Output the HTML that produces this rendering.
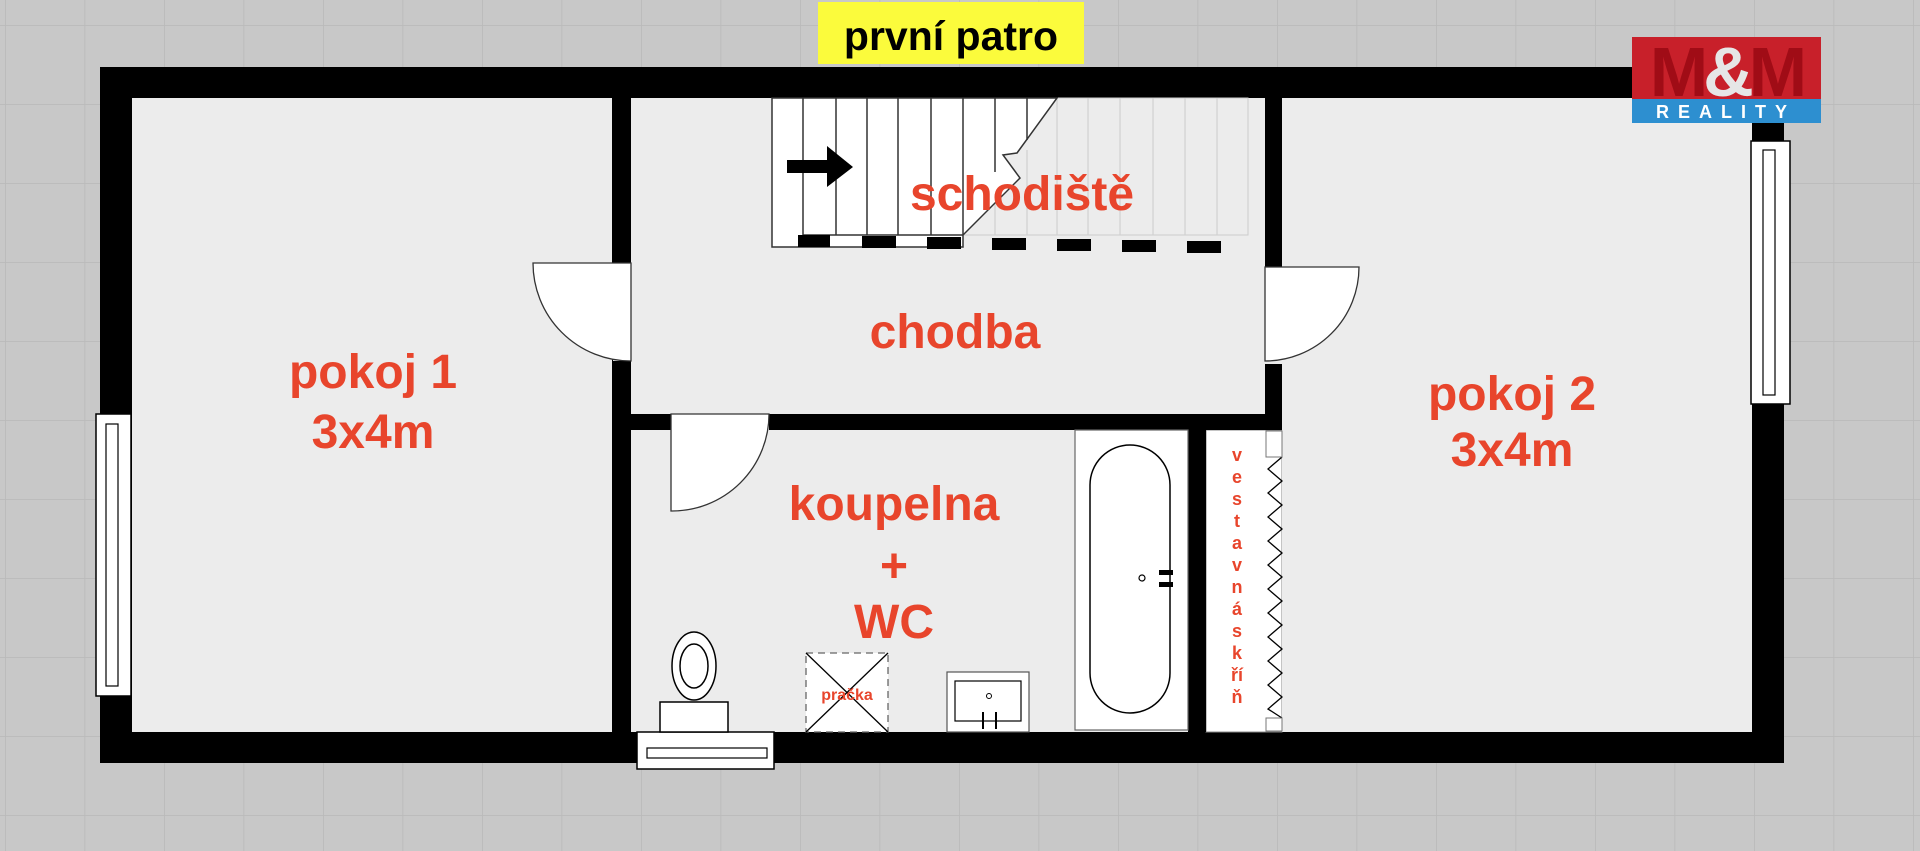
<!DOCTYPE html>
<html><head><meta charset="utf-8"><style>
html,body{margin:0;padding:0;width:1920px;height:851px;overflow:hidden;background:#c8c8c8}
svg{display:block}
text{font-family:"Liberation Sans",sans-serif;font-weight:bold}
</style></head><body>
<svg width="1920" height="851" viewBox="0 0 1920 851" xmlns="http://www.w3.org/2000/svg">
<defs>
<pattern id="g" width="79.5" height="79" patternUnits="userSpaceOnUse" x="5" y="25">
<rect width="79.5" height="79" fill="#c8c8c8"/>
<path d="M0 0H79.5M0 0V79" stroke="#b9b9b9" stroke-width="1.5" fill="none"/>
</pattern>
</defs>
<rect width="1920" height="851" fill="url(#g)"/>
<rect x="100" y="67" width="1684" height="696" fill="#000"/>
<rect x="132" y="98" width="480" height="634" fill="#ececec"/>
<rect x="631" y="98" width="634" height="317" fill="#ececec"/>
<rect x="631" y="430" width="557" height="302" fill="#ececec"/>
<rect x="1206" y="430" width="76" height="302" fill="#fff" stroke="#888" stroke-width="1"/>
<rect x="1282" y="98" width="470" height="634" fill="#ececec"/>
<rect x="772" y="98" width="476" height="137" fill="#ececec" stroke="#ccc" stroke-width="1"/>
<g stroke="#d0d0d0" stroke-width="1.2">
<line x1="1057" y1="98" x2="1057" y2="235"/><line x1="1088" y1="98" x2="1088" y2="235"/><line x1="1120" y1="98" x2="1120" y2="235"/><line x1="1153" y1="98" x2="1153" y2="235"/><line x1="1185" y1="98" x2="1185" y2="235"/><line x1="1217" y1="98" x2="1217" y2="235"/><line x1="1027" y1="150" x2="1027" y2="235"/><line x1="995" y1="190" x2="995" y2="235"/>
</g>
<polygon points="772,98 1057,98 1017,153 1003,155 1020,178 963,235 963,247 772,247" fill="#fff" stroke="#333" stroke-width="1.5"/>
<g stroke="#333" stroke-width="1.5">
<line x1="803" y1="98" x2="803" y2="235"/><line x1="836" y1="98" x2="836" y2="235"/><line x1="867" y1="98" x2="867" y2="235"/><line x1="898" y1="98" x2="898" y2="235"/><line x1="931" y1="98" x2="931" y2="235"/><line x1="963" y1="98" x2="963" y2="235"/><line x1="995" y1="98" x2="995" y2="172"/><line x1="1027" y1="98" x2="1027" y2="140"/>
<line x1="803" y1="235" x2="963" y2="235"/>
</g>
<polygon points="787,160 827,160 827,146 853,167 827,187 827,173 787,173" fill="#000"/>
<g fill="#000">
<rect x="798" y="235" width="32" height="12"/><rect x="862" y="236" width="34" height="12"/><rect x="927" y="237" width="34" height="12"/><rect x="992" y="238" width="34" height="12"/><rect x="1057" y="239" width="34" height="12"/><rect x="1122" y="240" width="34" height="12"/><rect x="1187" y="241" width="34" height="12"/>
</g>
<rect x="612" y="98" width="19" height="634" fill="#000"/>
<rect x="1265" y="98" width="17" height="332" fill="#000"/>
<rect x="612" y="414" width="670" height="16" fill="#000"/>
<rect x="1188" y="414" width="18" height="318" fill="#000"/>
<rect x="613" y="263" width="18" height="98" fill="#ececec"/>
<path d="M631 263 H533 A98 98 0 0 0 631 361 Z" fill="#fff" stroke="#333" stroke-width="1.3"/>
<rect x="1265" y="267" width="17" height="97" fill="#ececec"/>
<path d="M1265 267 H1359 A94 94 0 0 1 1265 361 Z" fill="#fff" stroke="#333" stroke-width="1.3"/>
<rect x="671" y="413" width="98" height="18" fill="#ececec"/>
<path d="M671 414 V511 A97 97 0 0 0 769 414 Z" fill="#fff" stroke="#333" stroke-width="1.3"/>
<rect x="96" y="414" width="35" height="282" fill="#fff" stroke="#000" stroke-width="1.5"/>
<rect x="106" y="424" width="12" height="262" fill="#fff" stroke="#000" stroke-width="1.2"/>
<rect x="1751" y="141" width="39" height="263" fill="#fff" stroke="#000" stroke-width="1.5"/>
<rect x="1763" y="150" width="12" height="245" fill="#fff" stroke="#000" stroke-width="1.2"/>
<rect x="637" y="732" width="137" height="37" fill="#fff" stroke="#000" stroke-width="1.5"/>
<rect x="647" y="748" width="120" height="10" fill="#fff" stroke="#000" stroke-width="1.2"/>
<rect x="1075" y="430" width="113" height="300" fill="#fff" stroke="#666" stroke-width="1.2"/>
<rect x="1090" y="445" width="80" height="268" rx="40" fill="#fff" stroke="#000" stroke-width="1.5"/>
<circle cx="1142" cy="578" r="3" fill="none" stroke="#000" stroke-width="1.2"/>
<rect x="1159" y="570" width="14" height="5" fill="#000"/><rect x="1159" y="582" width="14" height="5" fill="#000"/>
<rect x="947" y="672" width="82" height="60" fill="#fff" stroke="#555" stroke-width="1.2"/>
<rect x="955" y="681" width="66" height="40" fill="#fff" stroke="#000" stroke-width="1.2"/>
<circle cx="989" cy="696" r="2.5" fill="none" stroke="#000"/>
<line x1="983" y1="712" x2="983" y2="729" stroke="#000" stroke-width="2"/><line x1="996" y1="712" x2="996" y2="729" stroke="#000" stroke-width="2"/>
<rect x="806" y="653" width="82" height="79" fill="#fff" stroke="#666" stroke-width="1.3" stroke-dasharray="7,5"/>
<line x1="806" y1="653" x2="888" y2="732" stroke="#000" stroke-width="1.3"/><line x1="888" y1="653" x2="806" y2="732" stroke="#000" stroke-width="1.3"/>
<text x="847" y="700" font-size="16" fill="#e8452c" text-anchor="middle">pračka</text>
<ellipse cx="694" cy="666" rx="22" ry="34" fill="#fff" stroke="#000" stroke-width="1.5"/>
<ellipse cx="694" cy="666" rx="14" ry="22" fill="#fff" stroke="#000" stroke-width="1.5"/>
<rect x="660" y="702" width="68" height="30" fill="#fff" stroke="#000" stroke-width="1.5"/>
<polyline points="1282,457 1268,469 1282,481 1268,493 1282,505 1268,517 1282,529 1268,541 1282,553 1268,565 1282,577 1268,589 1282,601 1268,613 1282,625 1268,637 1282,649 1268,661 1282,673 1268,685 1282,697 1268,709 1282,718" fill="none" stroke="#000" stroke-width="1.3"/>
<rect x="1266" y="431" width="16" height="26" fill="none" stroke="#777"/>
<rect x="1266" y="718" width="16" height="13" fill="none" stroke="#777"/>
<g font-size="18" fill="#e8452c" text-anchor="middle">
<text x="1237" y="461">v</text><text x="1237" y="483">e</text><text x="1237" y="505">s</text><text x="1237" y="527">t</text><text x="1237" y="549">a</text><text x="1237" y="571">v</text><text x="1237" y="593">n</text><text x="1237" y="615">á</text><text x="1237" y="637">s</text><text x="1237" y="659">k</text><text x="1237" y="681">ří</text><text x="1237" y="703">ň</text>
</g>
<g fill="#e8452c" text-anchor="middle" font-size="48">
<text x="373" y="388">pokoj 1</text>
<text x="373" y="448">3x4m</text>
<text x="1022" y="210">schodiště</text>
<text x="955" y="348">chodba</text>
<text x="1512" y="410">pokoj 2</text>
<text x="1512" y="466">3x4m</text>
<text x="894" y="520">koupelna</text>
<text x="894" y="582">+</text>
<text x="894" y="638">WC</text>
</g>
<rect x="818" y="2" width="266" height="62" fill="#fbfb3c"/>
<text x="951" y="50" font-size="41" fill="#000" text-anchor="middle">první patro</text>
<rect x="1632" y="37" width="189" height="62" fill="#c8202a"/>
<text x="1726" y="96" font-size="70" fill="#a00c16" text-anchor="middle" style="letter-spacing:-5px">M<tspan fill="#e6e6e6">&amp;</tspan>M</text>
<rect x="1632" y="99" width="189" height="24" fill="#2d8fd0"/>
<text x="1726" y="118" font-size="18" fill="#fff" text-anchor="middle" style="letter-spacing:9px">REALITY</text>
</svg>
</body></html>
